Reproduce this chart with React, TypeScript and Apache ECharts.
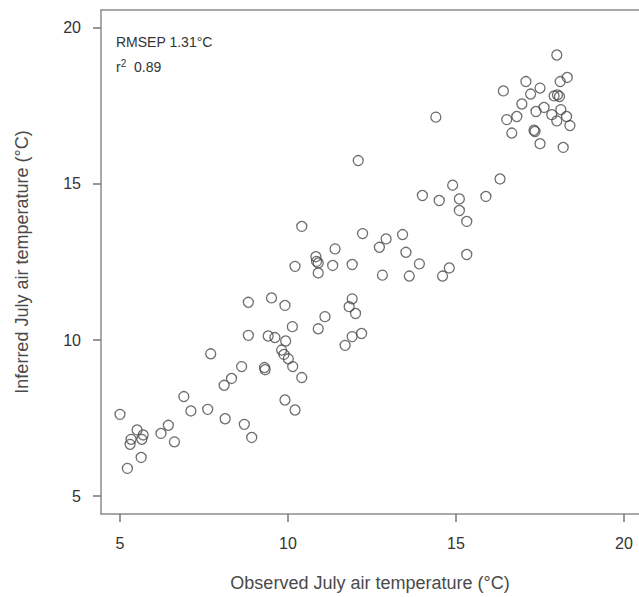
import React, { useEffect, useRef } from "react";
import * as echarts from "echarts";

const observed = [
  5.0, 5.51, 5.69, 5.33, 5.3, 5.65, 5.63, 5.22, 6.22, 6.44, 6.62, 6.9, 7.11, 7.61, 8.13, 8.7, 8.92, 8.1, 8.32,
  10.21, 10.9, 10.85, 10.9, 11.33, 11.91, 12.81, 8.82, 9.51, 9.91, 11.91, 11.82, 12.01, 11.1, 10.9, 10.13,
  8.82, 9.41, 9.61, 9.93, 12.19, 11.91, 11.7, 7.7, 9.81, 9.88, 10.01, 10.14, 9.3, 9.32, 8.62, 10.41, 9.91, 10.21,
  12.09, 14.0, 14.5, 14.9, 15.1, 15.1, 15.32, 10.41, 12.22, 12.92, 12.72, 13.41, 13.51, 13.91, 15.32, 14.8,
  14.6, 13.61, 11.4, 10.83,
  14.4, 16.31, 15.89, 18.0, 16.41, 17.08, 17.5, 17.22, 18.1, 18.31, 17.92, 18.02, 18.08, 16.96, 17.62, 17.38,
  18.12, 17.85, 18.29, 18.0, 18.39, 16.81, 16.51, 16.66, 17.35, 17.32, 17.5, 18.19,
];
const inferred = [
  7.62, 7.12, 6.96, 6.82, 6.66, 6.82, 6.24, 5.89, 7.01, 7.27, 6.74, 8.19, 7.73, 7.78, 7.48, 7.3, 6.88, 8.55, 8.77,
  12.36, 12.47, 12.52, 12.15, 12.39, 12.42, 12.08, 11.21, 11.35, 11.11, 11.32, 11.07, 10.85, 10.75, 10.36, 10.43,
  10.15, 10.13, 10.08, 9.97, 10.21, 10.11, 9.83, 9.56, 9.68, 9.54, 9.4, 9.15, 9.12, 9.05, 9.15, 8.8, 8.08, 7.76,
  15.75, 14.63, 14.47, 14.96, 14.52, 14.15, 13.8, 13.64, 13.41, 13.24, 12.97, 13.38, 12.81, 12.44, 12.74, 12.31,
  12.05, 12.05, 12.92, 12.67,
  17.14, 15.16, 14.6, 19.13, 17.98, 18.28, 18.07, 17.88, 18.28, 18.41, 17.82, 17.85, 17.8, 17.56, 17.45, 17.32,
  17.38, 17.22, 17.16, 17.02, 16.87, 17.16, 17.06, 16.63, 16.68, 16.72, 16.29, 16.17,
];
const xTicks = [5, 10, 15, 20];
const yTicks = [5, 10, 15, 20];
const statLines = ["RMSEP 1.31°C", "0.89"];

export default function App() {
  const ref = useRef<HTMLDivElement>(null);
  useEffect(() => {
    if (!ref.current) return;
    const chart = echarts.init(ref.current, null, { renderer: "svg" });
    const points = observed.map((x, i) => [x, inferred[i]]);
    const font = "Liberation Sans, Arial, sans-serif";
    const boxLine = { color: "#8c8c8c", width: 1.5 };
    chart.setOption({
      animation: false,
      backgroundColor: "#fff",
      grid: { left: 101, top: 10, right: 0, bottom: 78, show: false },
      xAxis: [
        {
          type: "value",
          min: 4.435,
          max: 20.446,
          axisLine: { show: true, lineStyle: boxLine },
          splitLine: { show: false },
          axisTick: { show: true, inside: false, length: 8, customValues: xTicks, lineStyle: { color: "#777", width: 1.5 } },
          axisLabel: { customValues: xTicks, margin: 21, fontSize: 16, color: "#333", fontFamily: font },
          name: "Observed July air temperature (°C)",
          nameLocation: "middle",
          nameGap: 60,
          nameTextStyle: { fontSize: 18, color: "#4a4a4a", fontFamily: font },
        },
        {
          type: "value",
          position: "top",
          min: 4.435,
          max: 20.446,
          axisLine: { show: true, lineStyle: boxLine },
          splitLine: { show: false },
          axisTick: { show: false },
          axisLabel: { show: false },
        },
      ],
      yAxis: {
        type: "value",
        min: 4.429,
        max: 20.571,
        axisLine: { show: true, lineStyle: boxLine },
        splitLine: { show: false },
        axisTick: { show: true, inside: false, length: 8, customValues: yTicks, lineStyle: { color: "#777", width: 1.5 } },
        axisLabel: { customValues: yTicks, margin: 20, fontSize: 16, color: "#333", fontFamily: font },
        name: "Inferred July air temperature (°C)",
        nameLocation: "middle",
        nameGap: 70,
        nameTextStyle: { fontSize: 18, color: "#4a4a4a", fontFamily: font },
      },
      graphic: [
        {
          type: "text",
          left: 116,
          top: 35,
          style: { text: statLines[0], fontSize: 14, fill: "#333", fontFamily: font },
        },
        {
          type: "text",
          left: 116,
          top: 58,
          style: {
            text: "{r|r}{sup|2}{v|  " + statLines[1] + "}",
            fontFamily: font,
            fill: "#333",
            rich: {
              r: { fontSize: 14, fill: "#333", fontFamily: font },
              sup: { fontSize: 10, fill: "#333", verticalAlign: "top", padding: [0, 0, 7, 0], fontFamily: font },
              v: { fontSize: 14, fill: "#333", fontFamily: font },
            },
          },
        },
      ],
      series: [
        {
          type: "scatter",
          xAxisIndex: 0,
          data: points,
          symbol: "circle",
          symbolSize: 10,
          itemStyle: { color: "rgba(0,0,0,0)", borderColor: "#4a4a4a", borderWidth: 1.3 },
          emphasis: { disabled: true },
        },
      ],
    });
    return () => chart.dispose();
  }, []);
  return (
    <div
      ref={ref}
      style={{ position: "fixed", left: 0, top: 0, width: 639, height: 597, background: "#fff" }}
    />
  );
}
